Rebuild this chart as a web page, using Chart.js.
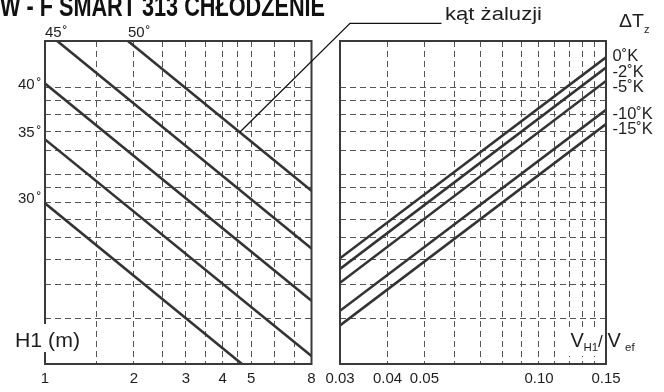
<!DOCTYPE html>
<html><head><meta charset="utf-8">
<script src="https://cdn.jsdelivr.net/npm/chart.js@4.4.1/dist/chart.umd.min.js"></script>
<style>
html,body{margin:0;padding:0;background:#fff;width:664px;height:392px;overflow:hidden}
canvas{position:absolute;left:0;top:0}
</style></head><body>
<canvas id="left" width="664" height="392"></canvas>
<canvas id="right" width="664" height="392"></canvas>
<script>
const FONT = '"Liberation Sans", Arial, Helvetica, sans-serif';
const LINE = '#333333', GRID = '#555555', FRAME = '#3a3a3a', TXT = '#1e1e1e';

// left panel x axis: H1 (m)
const hTicks = [1, 1.5, 2, 2.5, 3, 3.5, 4, 4.5, 5, 6, 7, 8];
const hLabels = [1, 2, 3, 4, 5, 8];
// right panel x axis: V_H1 / V_ef
const vTicks = [0.03, 0.04, 0.05, 0.06, 0.07, 0.08, 0.09, 0.10, 0.11, 0.12, 0.13, 0.14, 0.15];
const vLabels = ['0.03', '0.04', '0.05', '0.10', '0.15'];
// shared (unlabelled) vertical scale gridlines
const yGrid = [2.94, 3.95, 4.86, 5.88, 6.89, 7.92, 9.0, 10.1, 12.4, 14.6, 16.85, 18.9, 21.1];

// louvre angle lines (left panel)
const angleLabels = ['30˚', '35˚', '40˚', '45˚', '50˚'];
const angleStartH = [1, 1, 1, 1.10, 1.91];
const angleStartY = [7.88, 13.6, 21.9, 31.5, 31.5];
const angleEndH = [4.65, 8, 8, 8, 8];
const angleEndY = [2.0, 2.14, 3.43, 5.36, 8.78];

// ΔTz lines (right panel)
const dtLabels = ['0˚K', '-2˚K', '-5˚K', '-10˚K', '-15˚K'];
const dtStartV = [0.03, 0.03, 0.03, 0.03, 0.03];
const dtStartY = [4.93, 4.50, 4.00, 3.15, 2.78];
const dtEndV = [0.15, 0.15, 0.15, 0.15, 0.15];
const dtEndY = [27.4, 25.1, 22.4, 17.5, 15.5];

function txt(ctx, s, x, y, size, o) {
  o = o || {};
  ctx.save();
  ctx.font = (o.bold ? 'bold ' : '') + size + 'px ' + FONT;
  ctx.fillStyle = o.color || TXT;
  ctx.textBaseline = 'alphabetic';
  if (o.w) {
    const m = ctx.measureText(s).width;
    ctx.translate(x, y); ctx.scale(o.w / m, 1);
    ctx.textAlign = 'left'; ctx.fillText(s, 0, 0);
  } else {
    ctx.textAlign = o.align || 'left';
    ctx.fillText(s, x, y);
  }
  ctx.restore();
}
function frame(chart) {
  const ctx = chart.ctx, a = chart.chartArea;
  ctx.save(); ctx.setLineDash([]); ctx.lineWidth = 2; ctx.strokeStyle = FRAME;
  ctx.strokeRect(a.left, a.top, a.right - a.left, a.bottom - a.top);
  ctx.restore();
}
function axisCfg(type, min, max, tickVals, labelFn, hideEdges, isX) {
  return {
    type, min, max,
    afterBuildTicks: s => { s.ticks = tickVals.map(v => ({ value: v })); },
    afterFit: s => { if (isX) s.height = 28; else s.width = 0; },
    ticks: isX ? { autoSkip: false, maxRotation: 0, minRotation: 0, padding: 6, color: TXT,
      font: { family: FONT, size: 15 }, callback: labelFn } : { display: false },
    grid: { drawTicks: false, lineWidth: 1,
      color: c => (hideEdges && c.tick && (c.tick.value === min || c.tick.value === max)) ? 'rgba(0,0,0,0)' : GRID },
    border: { display: false, dash: [6, 4] }
  };
}
function lineDs(label, x1, y1, x2, y2) {
  return { label, data: [{ x: x1, y: y1 }, { x: x2, y: y2 }], borderColor: LINE, borderWidth: 2.6,
    pointRadius: 0, fill: false, tension: 0, borderCapStyle: 'butt' };
}

const leftDecor = {
  id: 'leftDecor',
  afterDraw(chart) {
    const ctx = chart.ctx;
    frame(chart);
    // angle labels
    txt(ctx, '45', 45, 37, 15); txt(ctx, '˚', 62.5, 37, 15);
    txt(ctx, '50', 128, 37, 15); txt(ctx, '˚', 145.5, 37, 15);
    txt(ctx, '40', 18, 89, 15); txt(ctx, '˚', 36.5, 89, 15);
    txt(ctx, '35', 18, 137, 15); txt(ctx, '˚', 36.5, 137, 15);
    txt(ctx, '30', 18, 203, 15); txt(ctx, '˚', 36.5, 203, 15);
    // H1 (m)
    ctx.save(); ctx.fillStyle = '#fff'; ctx.fillRect(12, 324, 72, 28); ctx.restore();
    txt(ctx, 'H1 (m)', 15, 347, 20, { w: 65 });
  }
};

const leftChart = new Chart(document.getElementById('left'), {
  type: 'line',
  data: { datasets: angleLabels.map((l, i) => lineDs(l, angleStartH[i], angleStartY[i], angleEndH[i], angleEndY[i])) },
  options: {
    responsive: false, animation: false, events: [],
    layout: { padding: { left: 45, top: 41, right: 664 - 311.5, bottom: 0 } },
    plugins: { legend: { display: false }, tooltip: { enabled: false } },
    scales: {
      x: axisCfg('logarithmic', 1, 8, hTicks, v => hLabels.includes(v) ? String(v) : '', true, true),
      y: axisCfg('logarithmic', 2, 31.5, yGrid, null, false, false)
    }
  },
  plugins: [leftDecor]
});

const rightDecor = {
  id: 'rightDecor',
  afterDraw(chart) {
    const ctx = chart.ctx;
    frame(chart);
    // title (cut at top)
    txt(ctx, 'W - F SMART 313 CHŁODZENIE', 0, 16, 30, { bold: true, w: 325, color: '#111' });
    // ΔTz header
    txt(ctx, 'ΔT', 619, 27, 18, { w: 25 });
    txt(ctx, 'z', 644, 33, 11);
    // ΔT labels
    const ly = [61, 77, 92, 119, 134];
    dtLabels.forEach((l, i) => txt(ctx, l, 612.5, ly[i], 16.5));
    // V_H1 / V_ef
    ctx.save(); ctx.fillStyle = '#fff'; ctx.fillRect(568, 330, 37, 26); ctx.restore();
    txt(ctx, 'V', 570.5, 347, 20);
    txt(ctx, 'H1', 583.5, 351, 11.5);
    txt(ctx, '/', 598, 347, 17);
    txt(ctx, 'V', 607.5, 347, 20);
    txt(ctx, 'ef', 625, 351, 11.5);
    // "kąt żaluzji" + pointer to the 50˚ line
    txt(ctx, 'kąt żaluzji', 445, 20, 18, { w: 97 });
    const xs = leftChart.scales.x, ys = leftChart.scales.y;
    const i = 4, hp = 4.57;
    const t = (Math.log(hp) - Math.log(angleStartH[i])) / (Math.log(angleEndH[i]) - Math.log(angleStartH[i]));
    const yp = Math.exp(Math.log(angleStartY[i]) + t * (Math.log(angleEndY[i]) - Math.log(angleStartY[i])));
    const px = xs.getPixelForValue(hp), py = ys.getPixelForValue(yp);
    ctx.save(); ctx.setLineDash([]); ctx.strokeStyle = '#111'; ctx.lineWidth = 1.3;
    ctx.beginPath(); ctx.moveTo(px, py); ctx.lineTo(350, 23.3); ctx.lineTo(441.5, 23.3); ctx.stroke();
    ctx.restore();
  }
};

new Chart(document.getElementById('right'), {
  type: 'line',
  data: { datasets: dtLabels.map((l, i) => lineDs(l, dtStartV[i], dtStartY[i], dtEndV[i], dtEndY[i])) },
  options: {
    responsive: false, animation: false, events: [],
    layout: { padding: { left: 340, top: 41, right: 664 - 606, bottom: 0 } },
    plugins: { legend: { display: false }, tooltip: { enabled: false } },
    scales: {
      x: axisCfg('logarithmic', 0.03, 0.15, vTicks, v => {
        const s = v.toFixed(2); return vLabels.includes(s) ? s : '';
      }, true, true),
      y: axisCfg('logarithmic', 2, 31.5, yGrid, null, false, false)
    }
  },
  plugins: [rightDecor]
});
</script>
</body></html>
